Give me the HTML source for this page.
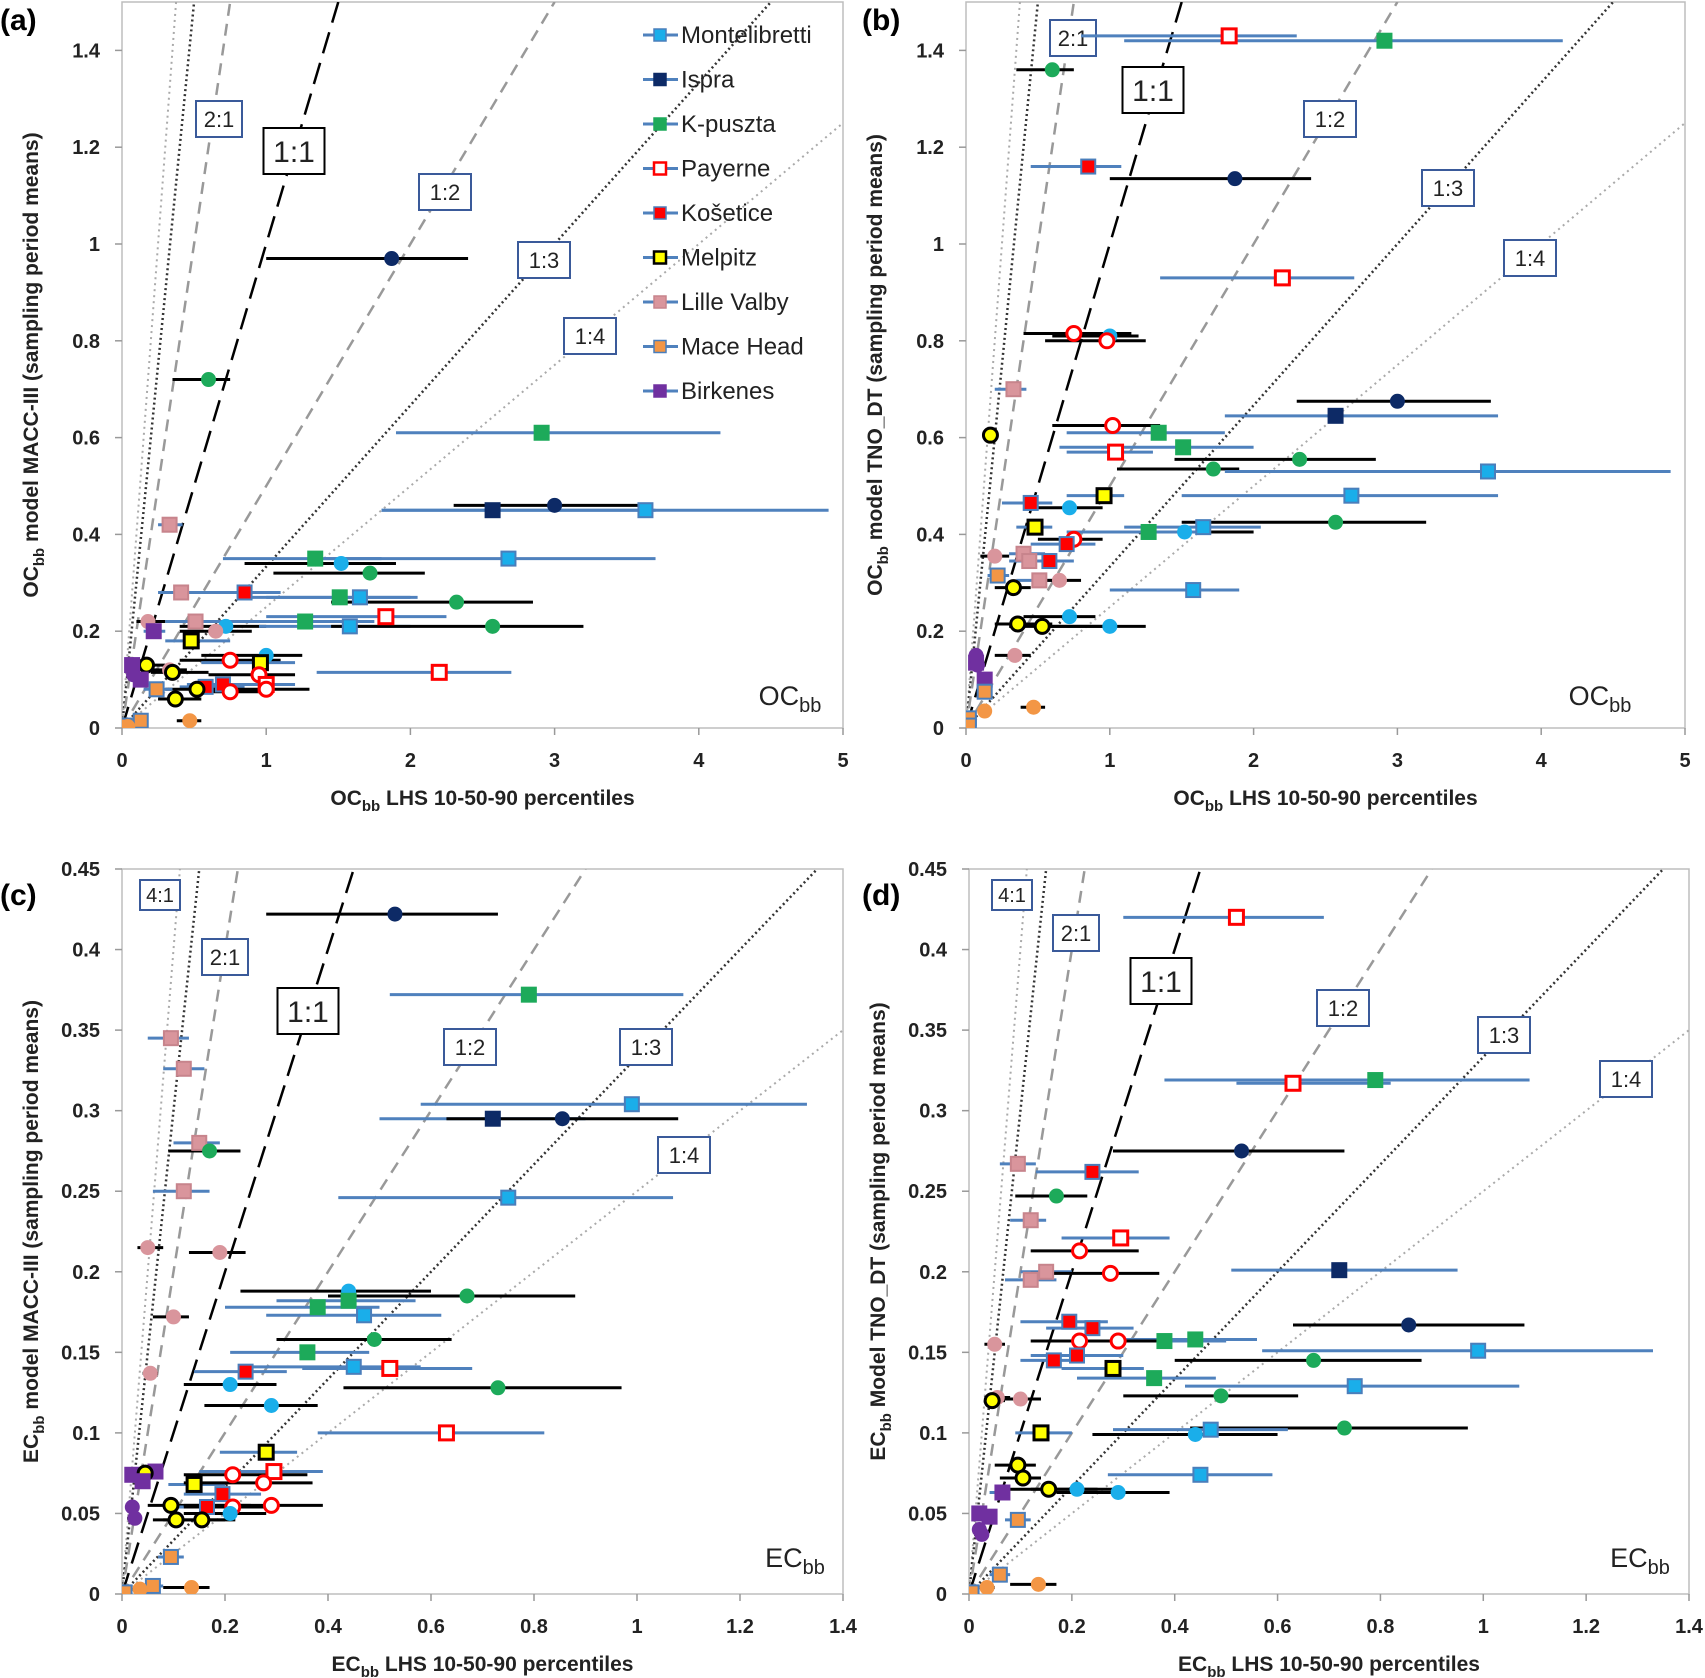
<!DOCTYPE html>
<html><head><meta charset="utf-8"><style>
body{margin:0;background:#fff}
svg{display:block;font-family:"Liberation Sans",sans-serif}
</style></head><body>
<svg id="chart" width="1705" height="1678" viewBox="0 0 1705 1678"></svg>
<script>
const stationNames=["Montelibretti","Ispra","K-puszta","Payerne","Košetice","Melpitz","Lille Valby","Mace Head","Birkenes"];
const stationFill=["#1aaeea","#0d2a66","#1daa5a","#ffffff","#ff0000","#ffff00","#d9959c","#f39645","#7030a0"];
const stationStroke=["#4a7ebb","#0d2a66","#1daa5a","#ff0000","#4a7ebb","#000000","#c7848c","#4a7ebb","#7030a0"];
// [station, shape, x median, x10, x90, y]
const pointsA=[[1,"c",1.87,1.0,2.4,0.97],[2,"c",0.6,0.35,0.75,0.72],[2,"s",2.91,1.9,4.15,0.61],[1,"c",3.0,2.3,3.65,0.46],[1,"s",2.57,1.8,3.7,0.45],[0,"s",3.63,1.8,4.9,0.45],[6,"s",0.33,0.25,0.42,0.42],[2,"s",1.34,0.7,1.8,0.35],[0,"c",1.52,0.85,1.9,0.34],[0,"s",2.68,1.4,3.7,0.35],[2,"c",1.72,1.05,2.1,0.32],[4,"s",0.85,0.4,1.1,0.28],[6,"s",0.41,0.25,0.9,0.28],[2,"s",1.51,1.0,2.05,0.27],[0,"s",1.65,0.9,2.0,0.27],[2,"c",2.32,1.45,2.85,0.26],[3,"s",1.83,1.0,2.25,0.23],[2,"s",1.27,0.6,1.75,0.22],[6,"c",0.18,0.1,0.3,0.22],[6,"s",0.51,0.3,0.8,0.22],[8,"s",0.22,0.15,0.3,0.2],[0,"c",0.72,0.4,1.0,0.21],[0,"s",1.58,0.95,2.0,0.21],[2,"c",2.57,1.45,3.2,0.21],[6,"c",0.65,0.4,0.9,0.2],[5,"s",0.48,0.3,0.75,0.18],[0,"c",1.0,0.55,1.25,0.15],[3,"c",0.75,0.4,1.1,0.14],[5,"s",0.96,0.55,1.2,0.135],[5,"c",0.17,0.1,0.3,0.13],[8,"s",0.07,0.04,0.1,0.13],[8,"c",0.08,0.05,0.12,0.11],[8,"s",0.13,0.08,0.18,0.1],[3,"c",0.95,0.6,1.2,0.11],[6,"c",0.33,0.2,0.45,0.12],[5,"c",0.35,0.2,0.6,0.115],[3,"s",2.2,1.35,2.7,0.115],[3,"s",1.0,0.7,1.2,0.09],[4,"s",0.7,0.45,1.0,0.09],[4,"s",0.58,0.4,0.85,0.085],[5,"c",0.52,0.3,0.8,0.08],[3,"c",0.75,0.5,1.0,0.075],[3,"c",1.0,0.7,1.3,0.08],[7,"s",0.24,0.15,0.35,0.08],[5,"c",0.37,0.25,0.55,0.06],[7,"c",0.47,0.38,0.55,0.015],[7,"s",0.13,0.08,0.18,0.015],[7,"s",0.02,0.01,0.04,0.005],[7,"c",0.04,0.02,0.06,0.003]];
const pointsB=[[3,"s",1.83,0.8,2.3,1.43],[2,"s",2.91,1.1,4.15,1.42],[2,"c",0.6,0.35,0.75,1.36],[4,"s",0.85,0.45,1.08,1.16],[1,"c",1.87,1.0,2.4,1.135],[3,"s",2.2,1.35,2.7,0.93],[3,"c",0.75,0.4,1.15,0.815],[0,"c",1.0,0.6,1.2,0.81],[3,"c",0.98,0.55,1.25,0.8],[6,"s",0.33,0.2,0.42,0.7],[1,"c",3.0,2.3,3.65,0.675],[1,"s",2.57,1.8,3.7,0.645],[3,"c",1.02,0.6,1.35,0.625],[2,"s",1.34,0.7,1.8,0.61],[5,"c",0.17,0.12,0.22,0.605],[2,"s",1.51,0.65,2.0,0.58],[3,"s",1.04,0.7,1.3,0.57],[2,"c",2.32,1.45,2.85,0.555],[2,"c",1.72,1.05,1.9,0.535],[0,"s",3.63,1.8,4.9,0.53],[0,"s",2.68,1.5,3.7,0.48],[5,"s",0.96,0.7,1.1,0.48],[4,"s",0.45,0.25,0.6,0.465],[0,"c",0.72,0.45,0.95,0.455],[2,"c",2.57,1.5,3.2,0.425],[5,"s",0.48,0.35,0.6,0.415],[0,"s",1.65,1.1,2.05,0.415],[0,"c",1.52,1.0,2.0,0.405],[2,"s",1.27,0.7,1.7,0.405],[3,"c",0.75,0.5,0.95,0.39],[4,"s",0.7,0.45,0.9,0.38],[6,"s",0.4,0.3,0.55,0.36],[6,"c",0.2,0.1,0.3,0.355],[4,"s",0.58,0.4,0.75,0.345],[6,"s",0.44,0.3,0.6,0.345],[7,"s",0.22,0.15,0.3,0.315],[6,"s",0.51,0.35,0.65,0.305],[6,"c",0.65,0.5,0.8,0.305],[5,"c",0.33,0.2,0.45,0.29],[0,"s",1.58,1.0,1.9,0.285],[0,"c",0.72,0.4,0.9,0.23],[5,"c",0.36,0.2,0.6,0.215],[5,"c",0.53,0.3,1.0,0.21],[0,"c",1.0,0.55,1.25,0.21],[6,"c",0.34,0.2,0.45,0.15],[8,"c",0.07,0.04,0.1,0.15],[8,"s",0.07,0.04,0.1,0.135],[8,"c",0.08,0.05,0.11,0.13],[8,"s",0.13,0.08,0.16,0.1],[7,"s",0.13,0.1,0.16,0.075],[7,"s",0.02,0.01,0.03,0.02],[7,"s",0.02,0.01,0.03,0.005],[7,"c",0.47,0.38,0.55,0.043],[7,"c",0.13,0.1,0.16,0.035]];
const pointsC=[[1,"c",0.53,0.28,0.73,0.422],[2,"s",0.79,0.52,1.09,0.372],[6,"s",0.095,0.05,0.13,0.345],[6,"s",0.12,0.08,0.16,0.326],[6,"s",0.15,0.1,0.19,0.28],[2,"c",0.17,0.09,0.23,0.275],[6,"s",0.12,0.06,0.17,0.25],[0,"s",0.99,0.58,1.33,0.304],[1,"s",0.72,0.5,0.9,0.295],[1,"c",0.855,0.63,1.08,0.295],[0,"s",0.75,0.42,1.07,0.246],[6,"c",0.05,0.03,0.08,0.215],[6,"c",0.19,0.13,0.24,0.212],[6,"c",0.1,0.06,0.13,0.172],[2,"c",0.67,0.4,0.88,0.185],[0,"c",0.44,0.23,0.6,0.188],[2,"s",0.44,0.3,0.57,0.182],[2,"s",0.38,0.2,0.5,0.178],[0,"s",0.47,0.28,0.62,0.173],[2,"c",0.49,0.3,0.64,0.158],[2,"s",0.36,0.21,0.48,0.15],[0,"s",0.45,0.25,0.58,0.141],[3,"s",0.52,0.35,0.68,0.14],[4,"s",0.24,0.14,0.32,0.138],[6,"c",0.055,0.04,0.07,0.137],[0,"c",0.21,0.12,0.3,0.13],[2,"c",0.73,0.43,0.97,0.128],[0,"c",0.29,0.16,0.38,0.117],[3,"s",0.63,0.38,0.82,0.1],[5,"s",0.28,0.19,0.34,0.088],[8,"s",0.02,0.01,0.03,0.074],[8,"s",0.065,0.04,0.08,0.076],[5,"c",0.045,0.03,0.07,0.075],[3,"s",0.295,0.15,0.39,0.076],[3,"c",0.215,0.12,0.36,0.074],[8,"s",0.04,0.02,0.05,0.07],[5,"s",0.14,0.09,0.2,0.068],[3,"c",0.275,0.12,0.37,0.069],[4,"s",0.195,0.12,0.27,0.062],[5,"c",0.095,0.05,0.25,0.055],[4,"s",0.165,0.1,0.24,0.054],[3,"c",0.29,0.12,0.39,0.055],[3,"c",0.215,0.12,0.3,0.054],[8,"c",0.02,0.01,0.03,0.054],[8,"c",0.025,0.01,0.03,0.047],[0,"c",0.21,0.12,0.28,0.05],[5,"c",0.105,0.06,0.2,0.046],[5,"c",0.155,0.08,0.22,0.046],[7,"s",0.095,0.07,0.12,0.023],[7,"s",0.06,0.04,0.08,0.005],[7,"s",0.005,0.0,0.01,0.001],[7,"c",0.135,0.08,0.17,0.004],[7,"c",0.035,0.02,0.05,0.003]];
const pointsD=[[3,"s",0.52,0.3,0.69,0.42],[2,"s",0.79,0.38,1.09,0.319],[3,"s",0.63,0.52,0.82,0.317],[1,"c",0.53,0.28,0.73,0.275],[6,"s",0.095,0.06,0.13,0.267],[4,"s",0.24,0.13,0.33,0.262],[2,"c",0.17,0.09,0.23,0.247],[6,"s",0.12,0.08,0.15,0.232],[3,"s",0.295,0.18,0.39,0.221],[3,"c",0.215,0.12,0.33,0.213],[1,"s",0.72,0.51,0.95,0.201],[6,"s",0.15,0.1,0.2,0.2],[3,"c",0.275,0.12,0.37,0.199],[6,"s",0.12,0.07,0.17,0.195],[4,"s",0.195,0.1,0.27,0.169],[1,"c",0.855,0.63,1.08,0.167],[4,"s",0.24,0.15,0.32,0.165],[2,"s",0.38,0.22,0.5,0.157],[2,"s",0.44,0.3,0.56,0.158],[3,"c",0.215,0.12,0.3,0.157],[3,"c",0.29,0.14,0.39,0.157],[6,"c",0.05,0.03,0.07,0.155],[0,"s",0.99,0.57,1.33,0.151],[4,"s",0.21,0.12,0.3,0.148],[2,"c",0.67,0.4,0.88,0.145],[4,"s",0.165,0.1,0.22,0.145],[5,"s",0.28,0.18,0.34,0.14],[2,"s",0.36,0.21,0.48,0.134],[0,"s",0.75,0.42,1.07,0.129],[2,"c",0.49,0.3,0.64,0.123],[6,"c",0.055,0.03,0.08,0.122],[6,"c",0.1,0.06,0.14,0.121],[5,"c",0.045,0.03,0.07,0.12],[2,"c",0.73,0.43,0.97,0.103],[0,"s",0.47,0.28,0.62,0.102],[5,"s",0.14,0.09,0.2,0.1],[0,"c",0.44,0.24,0.6,0.099],[5,"c",0.095,0.05,0.13,0.08],[5,"c",0.105,0.06,0.14,0.072],[0,"s",0.45,0.27,0.59,0.074],[5,"c",0.155,0.08,0.25,0.065],[0,"c",0.21,0.12,0.3,0.065],[0,"c",0.29,0.17,0.39,0.063],[8,"s",0.065,0.04,0.08,0.063],[8,"s",0.02,0.01,0.03,0.05],[8,"s",0.04,0.02,0.05,0.048],[8,"c",0.02,0.01,0.03,0.04],[8,"c",0.025,0.01,0.03,0.037],[7,"s",0.095,0.07,0.12,0.046],[7,"s",0.06,0.04,0.08,0.012],[7,"s",0.005,0.0,0.01,0.001],[7,"c",0.135,0.08,0.17,0.006],[7,"c",0.035,0.02,0.05,0.004]];
const ratioValues=[4,3,2,1,0.5,1/3,0.25];
const ocXTicks=[0,1,2,3,4,5];
const ocYTicks=[0,0.2,0.4,0.6,0.8,1,1.2,1.4];
const ecXTicks=[0,0.2,0.4,0.6,0.8,1,1.2,1.4];
const ecYTicks=[0,0.05,0.1,0.15,0.2,0.25,0.3,0.35,0.4,0.45];

const NS="http://www.w3.org/2000/svg";
const svg=document.getElementById("chart");
function mk(tag,attrs,parent){const e=document.createElementNS(NS,tag);for(const k in attrs)e.setAttribute(k,attrs[k]);(parent||svg).appendChild(e);return e;}

const ratioStyle={4:["#aaa","2,4",2],3:["#333","2,3",2.5],2:["#999","12,8",2.5],1:["#000","22,10",2.5],0.5:["#999","12,8",2.5]};
function rStyle(k){if(Math.abs(k-1/3)<1e-6)return ["#333","2,3",2.5];if(k===0.25)return ["#aaa","2,4",2];return ratioStyle[k];}

const panels=[
 {id:"a",pts:pointsA,xt:ocXTicks,yt:ocYTicks,xmax:5,ymax:1.5,L:122,R:843,B:728,T:2,fmtY:v=>String(+v.toFixed(2)),
  letter:[0,30],ytitle:"model MACC-III (sampling period means)",sp:"OC",xtitle:"LHS 10-50-90 percentiles",
  boxes:[["2:1",219,119,46,36,22,"#3a5a9a"],["1:1",294,151,61,46,30,"#000"],["1:2",445,192,52,36,22,"#3a5a9a"],["1:3",544,260,52,36,22,"#3a5a9a"],["1:4",590,336,52,36,22,"#3a5a9a"]],
  lbl:[790,705],legend:true},
 {id:"b",pts:pointsB,xt:ocXTicks,yt:ocYTicks,xmax:5,ymax:1.5,L:966,R:1685,B:728,T:2,fmtY:v=>String(+v.toFixed(2)),
  letter:[862,30],ytitle:"model TNO_DT (sampling period means)",sp:"OC",xtitle:"LHS 10-50-90 percentiles",
  boxes:[["2:1",1073,38,46,36,22,"#3a5a9a"],["1:1",1153,90,61,46,30,"#000"],["1:2",1330,119,52,36,22,"#3a5a9a"],["1:3",1448,188,52,36,22,"#3a5a9a"],["1:4",1530,258,52,36,22,"#3a5a9a"]],
  lbl:[1600,705]},
 {id:"c",pts:pointsC,xt:ecXTicks,yt:ecYTicks,xmax:1.4,ymax:0.45,L:122,R:843,B:1594,T:869,fmtY:v=>String(+v.toFixed(2)),
  letter:[0,905],ytitle:"model MACC-III (sampling period means)",sp:"EC",xtitle:"LHS 10-50-90 percentiles",
  boxes:[["4:1",160,895,40,30,20,"#3a5a9a"],["2:1",225,957,46,36,22,"#3a5a9a"],["1:1",308,1011,61,46,30,"#000"],["1:2",470,1047,52,36,22,"#3a5a9a"],["1:3",646,1047,52,36,22,"#3a5a9a"],["1:4",684,1155,52,36,22,"#3a5a9a"]],
  lbl:[795,1567]},
 {id:"d",pts:pointsD,xt:ecXTicks,yt:ecYTicks,xmax:1.4,ymax:0.45,L:969,R:1689,B:1594,T:869,fmtY:v=>String(+v.toFixed(2)),
  letter:[862,905],ytitle:"Model TNO_DT (sampling period means)",sp:"EC",xtitle:"LHS 10-50-90 percentiles",
  boxes:[["4:1",1012,895,40,30,20,"#3a5a9a"],["2:1",1076,933,46,36,22,"#3a5a9a"],["1:1",1161,981,61,46,30,"#000"],["1:2",1343,1008,52,36,22,"#3a5a9a"],["1:3",1504,1035,52,36,22,"#3a5a9a"],["1:4",1626,1079,52,36,22,"#3a5a9a"]],
  lbl:[1640,1567]}
];

panels.forEach(p=>{
 const g=mk("g",{});
 
 
 const sx=v=>p.L+v/p.xmax*(p.R-p.L);
 const sy=v=>p.B-v/p.ymax*(p.B-p.T);
 const frame=mk("rect",{x:p.L,y:p.T,width:p.R-p.L,height:p.B-p.T,fill:"none",stroke:"#bdbdbd","stroke-width":1.5},g);
 
 
 const cp=mk("clipPath",{id:"clip"+p.id},g);
 mk("rect",{x:p.L,y:p.T,width:p.R-p.L,height:p.B-p.T},cp);
 // ticks
 p.xt.forEach(v=>{
  const t=mk("line",{x1:sx(v),x2:sx(v),y1:p.B,y2:p.B+7,stroke:"#999","stroke-width":1.5},g);
  
  
  const l=mk("text",{x:sx(v),y:p.B+39,"font-size":20,"font-weight":"bold","text-anchor":"middle",fill:"#222"},g);
  l.textContent=String(v);
  
  
 });
 p.yt.forEach(v=>{
  const t=mk("line",{x1:p.L-7,x2:p.L,y1:sy(v),y2:sy(v),stroke:"#999","stroke-width":1.5},g);
  
  
  const l=mk("text",{x:p.L-22,y:sy(v)+7,"font-size":20,"font-weight":"bold","text-anchor":"end",fill:"#222"},g);
  l.textContent=p.fmtY(v);
  
  
 });
 // ratio lines
 const lg=mk("g",{"clip-path":"url(#clip"+p.id+")"},g);
 ratioValues.forEach(k=>{
  const st=rStyle(k);
  const xe=Math.min(p.xmax,p.ymax/k);
  const ln=mk("line",{x1:sx(0),y1:sy(0),x2:sx(xe),y2:sy(xe*k),stroke:st[0],"stroke-dasharray":st[1],"stroke-width":st[2]},lg);
  
  
 });
 p.boxes.forEach(b=>{
  const bg=mk("g",{},g);
  
  
  mk("rect",{x:b[1]-b[3]/2,y:b[2]-b[4]/2,width:b[3],height:b[4],fill:"#fff",stroke:b[6],"stroke-width":2},bg);
  const t=mk("text",{x:b[1],y:b[2]+b[5]*0.36,"font-size":b[5],"text-anchor":"middle",fill:"#222"},bg);
  t.textContent=b[0];
 });
 // points: error bars first
 const pg=mk("g",{"clip-path":"url(#clip"+p.id+")"},g);
 p.pts.forEach(d=>{
  const bar=mk("line",{x1:sx(d[3]),x2:sx(d[4]),y1:sy(d[5]),y2:sy(d[5]),stroke:d[1]==="s"?"#4f81bd":"#000","stroke-width":3},pg);
  
  
 });
 p.pts.forEach(d=>{
  const s=d[0],cx=sx(d[2]),cy=sy(d[5]);
  let m;
  if(d[1]==="s"){
   m=mk("rect",{x:cx-7,y:cy-7,width:14,height:14,fill:stationFill[s],stroke:stationStroke[s],"stroke-width":s===3||s===5?3:2},pg);
  } else {
   m=mk("circle",{cx:cx,cy:cy,r:7,fill:stationFill[s],stroke:s===3?"#ff0000":s===5?"#000":stationFill[s],"stroke-width":s===3||s===5?3:1},pg);
  }
  
  
 });
 // labels
 const let_=mk("text",{x:p.letter[0],y:p.letter[1],"font-size":30,"font-weight":"bold",fill:"#000"},g);
 let_.textContent="("+p.id+")";
 
 
 const sl=mk("text",{x:p.lbl[0],y:p.lbl[1],"font-size":27,fill:"#222","text-anchor":"middle"},g);
 sl.innerHTML=p.sp+'<tspan font-size="20" dy="7">bb</tspan>';
 
 
 const xcx=(p.L+p.R)/2;
 const xt=mk("text",{x:xcx,y:p.B+77,"font-size":21,"font-weight":"bold","text-anchor":"middle",fill:"#222"},g);
 xt.innerHTML=p.sp+'<tspan font-size="15" dy="6">bb</tspan><tspan dy="-6"> '+p.xtitle+'</tspan>';
 
 
 const ycy=(p.T+p.B)/2, ycx=p.L-84;
 const yt=mk("text",{x:0,y:0,"font-size":21,"font-weight":"bold","text-anchor":"middle",fill:"#222",transform:"translate("+ycx+","+ycy+") rotate(-90)"},g);
 yt.innerHTML=p.sp+'<tspan font-size="15" dy="6">bb</tspan><tspan dy="-6"> '+p.ytitle+'</tspan>';
 
 
 if(p.legend){
  const lgd=mk("g",{},g);
  
  
  stationNames.forEach((n,i)=>{
   const y=35+i*44.5;
   const e=mk("g",{},lgd);
   
   
   mk("rect",{x:640,y:y-4,width:38,height:8,fill:"#fff"},e);
   mk("line",{x1:643,x2:678,y1:y,y2:y,stroke:"#4f81bd","stroke-width":3},e);
   mk("rect",{x:654,y:y-6,width:12,height:12,fill:stationFill[i],stroke:stationStroke[i],"stroke-width":i===3||i===5?2.5:1.5},e);
   const t=mk("text",{x:681,y:y+8,"font-size":24,fill:"#222"},e);
   t.textContent=n;
  });
 }
});
</script>
</body></html>
